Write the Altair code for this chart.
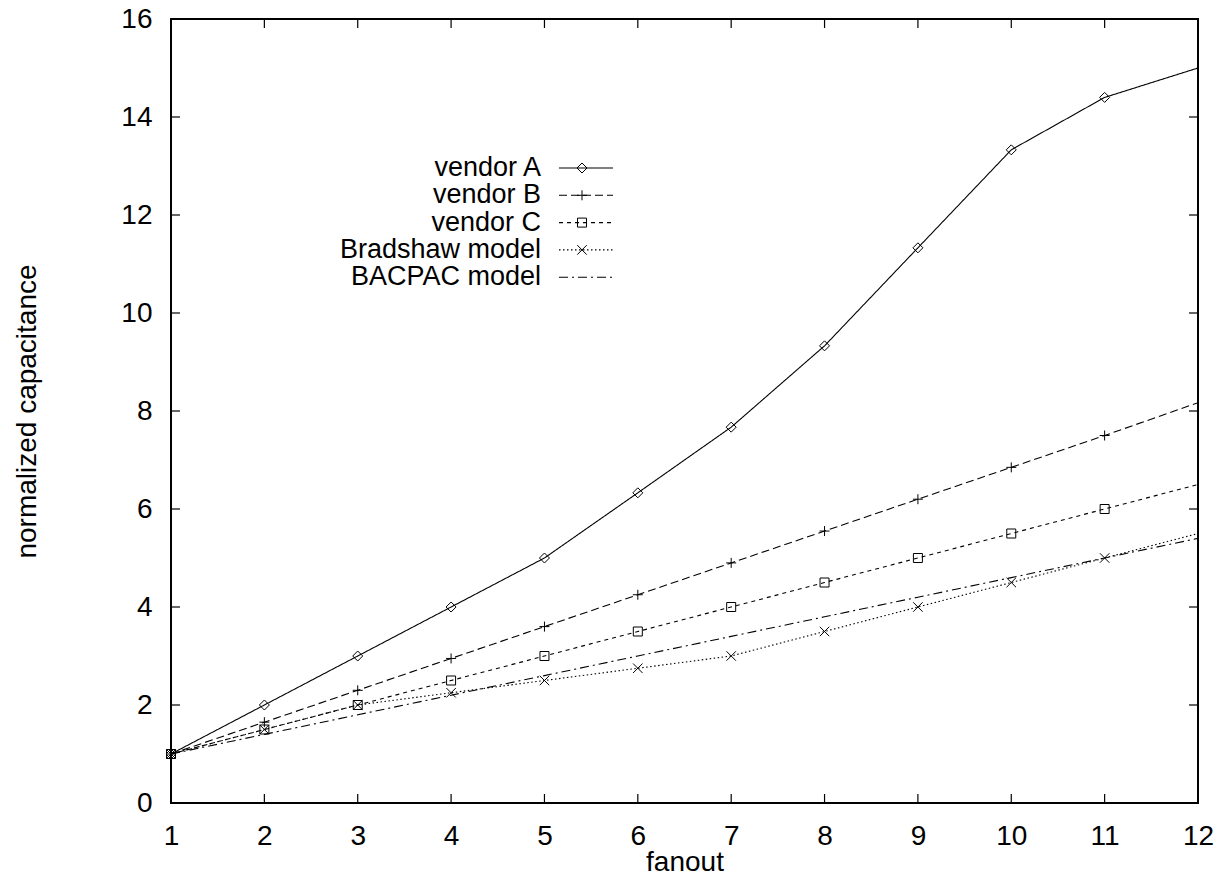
import altair as alt
import pandas as pd

# ---- data ----
fanout = [1, 2, 3, 4, 5, 6, 7, 8, 9, 10, 11, 12]
vendor_a = [1.0, 2.0, 3.0, 4.0, 5.0, 6.33, 7.67, 9.33, 11.33, 13.33, 14.4, 15.0]
vendor_b = [1.0, 1.65, 2.3, 2.95, 3.6, 4.25, 4.9, 5.55, 6.2, 6.85, 7.5, 8.17]
vendor_c = [1.0, 1.5, 2.0, 2.5, 3.0, 3.5, 4.0, 4.5, 5.0, 5.5, 6.0, 6.5]
bradshaw = [1.0, 1.5, 2.0, 2.25, 2.5, 2.75, 3.0, 3.5, 4.0, 4.5, 5.0, 5.5]
bacpac = [1.0, 1.4, 1.8, 2.2, 2.6, 3.0, 3.4, 3.8, 4.2, 4.6, 5.0, 5.4]

series_names = ["vendor A", "vendor B", "vendor C", "Bradshaw model", "BACPAC model"]
series_values = [vendor_a, vendor_b, vendor_c, bradshaw, bacpac]
marker_max_x = 11  # markers shown up to here (no markers at the right border)

x_ticks = list(range(1, 13))
y_ticks = [0, 2, 4, 6, 8, 10, 12, 14, 16]

# ---- styles ----
dashes = {
    "vendor A": [1, 0],
    "vendor B": [8, 4],
    "vendor C": [4, 4],
    "Bradshaw model": [1.5, 2.5],
    "BACPAC model": [9, 4, 2, 4],
}
shapes = {
    "vendor A": "M0,-1L1,0L0,1L-1,0Z",
    "vendor B": "M-1,0L1,0M0,-1L0,1",
    "vendor C": "M-1,-1L1,-1L1,1L-1,1Z",
    "Bradshaw model": "M-1,-1L1,1M-1,1L1,-1",
    "BACPAC model": None,
}
sizes = {"vendor A": 100, "vendor B": 100, "vendor C": 81, "Bradshaw model": 90}

W, H = 1027, 784
FONT = "Liberation Sans"
TICK = 9

rows = []
for name, vals in zip(series_names, series_values):
    for x, v in zip(fanout, vals):
        rows.append({"fanout": x, "value": v, "series": name})
df = pd.DataFrame(rows)

xscale = alt.Scale(domain=[1, 12], nice=False, zero=False)
yscale = alt.Scale(domain=[0, 16], nice=False)

xaxis = alt.Axis(values=x_ticks, ticks=False, tickSize=0, grid=False, domain=False,
                 labelFontSize=28, labelFont=FONT, labelPadding=19, labelColor="black",
                 labelFlush=False, labelOverlap=False,
                 title="fanout", titleFont=FONT, titleFontSize=28, titleFontWeight="normal",
                 titleY=45, titleBaseline="top", titleColor="black")
yaxis = alt.Axis(values=y_ticks, ticks=False, tickSize=0, grid=False, domain=False,
                 labelFontSize=28, labelFont=FONT, labelPadding=19, labelColor="black",
                 labelFlush=False, labelOverlap=False,
                 title="normalized capacitance", titleFont=FONT, titleFontSize=28,
                 titleFontWeight="normal", titleX=-144, titleY=H / 2, titleAngle=-90,
                 titleAlign="center", titleBaseline="middle", titleColor="black")


def X(field):
    return alt.X(field, scale=xscale, axis=xaxis, title="fanout")


def Y(field):
    return alt.Y(field, scale=yscale, axis=yaxis, title="normalized capacitance")


layers = []
for i, name in enumerate(series_names):
    sub = df[df["series"] == name]
    line = alt.Chart(sub).mark_line(color="black", strokeWidth=1.1,
                                    strokeDash=dashes[name], clip=True).encode(
        x=X("fanout:Q"), y=Y("value:Q"))
    layers.append(line)
    if shapes[name]:
        pts = alt.Chart(sub[sub["fanout"] <= marker_max_x]).mark_point(
            shape=shapes[name], size=sizes[name], filled=False, color="black",
            strokeWidth=1, opacity=1).encode(x=X("fanout:Q"), y=Y("value:Q"))
        layers.append(pts)

# inward ticks on all four borders
xt = pd.DataFrame({"fanout": x_ticks})
yt = pd.DataFrame({"value": y_ticks})
tick_style = dict(color="black", strokeWidth=1.2)
layers.append(alt.Chart(xt).mark_rule(**tick_style).encode(
    x=X("fanout:Q"), y=alt.value(H - TICK), y2=alt.value(H)))
layers.append(alt.Chart(xt).mark_rule(**tick_style).encode(
    x=X("fanout:Q"), y=alt.value(0), y2=alt.value(TICK)))
layers.append(alt.Chart(yt).mark_rule(**tick_style).encode(
    y=Y("value:Q"), x=alt.value(0), x2=alt.value(TICK)))
layers.append(alt.Chart(yt).mark_rule(**tick_style).encode(
    y=Y("value:Q"), x=alt.value(W - TICK), x2=alt.value(W)))

# manual key (labels right-aligned, sample line + marker to the right)
key_right = 370
key_top = 149
key_step = 27.3
sample_x0, sample_x1, sample_mid = 388, 442, 411
for i, name in enumerate(series_names):
    ky = key_top + i * key_step
    kd = pd.DataFrame({"label": [name]})
    layers.append(alt.Chart(kd).mark_text(align="right", baseline="middle", font=FONT,
                                          fontSize=27, color="black").encode(
        text="label:N", x=alt.value(key_right), y=alt.value(ky)))
    layers.append(alt.Chart(kd).mark_rule(color="black", strokeWidth=1.1,
                                          strokeDash=dashes[name]).encode(
        x=alt.value(sample_x0), x2=alt.value(sample_x1), y=alt.value(ky)))
    if shapes[name]:
        layers.append(alt.Chart(kd).mark_point(shape=shapes[name], size=sizes[name],
                                               filled=False, color="black",
                                               strokeWidth=1, opacity=1).encode(
            x=alt.value(sample_mid), y=alt.value(ky)))

chart = alt.layer(*layers).properties(
    width=W, height=H,
    autosize=alt.AutoSizeParams(type="none"),
    padding={"left": 171, "top": 19, "right": 23, "bottom": 73},
    background="white",
).configure_view(stroke="black", strokeWidth=2)

chart.save("out.html", embed_options={"renderer": "svg", "actions": False})
